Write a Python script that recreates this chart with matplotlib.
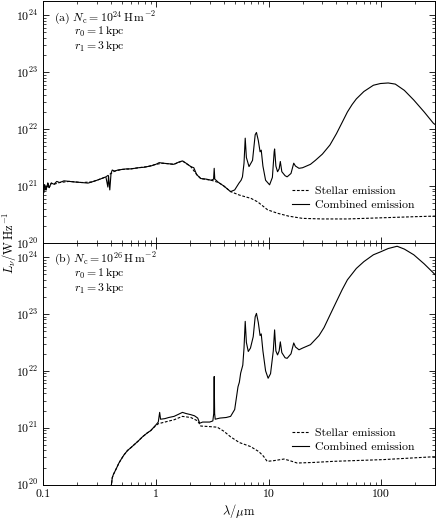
import numpy as np
import matplotlib
matplotlib.use('Agg')
import matplotlib.pyplot as plt
from matplotlib.ticker import FixedLocator, FixedFormatter, LogLocator, NullFormatter

plt.rcParams['font.family'] = 'serif'
plt.rcParams['font.serif'] = ['cmr10', 'DejaVu Serif']
plt.rcParams['mathtext.fontset'] = 'cm'
plt.rcParams['axes.unicode_minus'] = False
plt.rcParams['axes.formatter.use_mathtext'] = True
plt.rcParams['font.size'] = 8.5

# panel (a): N_c = 1e24 H m^-2, values are log10(L_nu / W Hz^-1)
lam_comb_a = [0.100, 0.101, 0.103, 0.106, 0.110, 0.113, 0.118, 0.125, 0.132, 0.140,
              0.153, 0.170, 0.19, 0.22, 0.25, 0.27, 0.30, 0.33, 0.36, 0.375,
              0.38, 0.39, 0.40, 0.41, 0.43, 0.46, 0.50, 0.55, 0.60, 0.65,
              0.70, 0.80, 0.84, 0.90, 1.00, 1.07, 1.15, 1.30, 1.44, 1.6,
              1.72, 1.85, 2.04, 2.17, 2.3, 2.5, 2.8, 3.1, 3.25, 3.29,
              3.33, 3.6, 4.0, 4.6, 5.0, 5.46, 5.7, 5.86, 6.05, 6.2,
              6.35, 6.7, 7.2, 7.6, 7.8, 8.1, 8.4, 8.6, 8.9, 9.4,
              10.2, 10.8, 11.2, 11.3, 11.6, 12.0, 12.4, 12.7, 13.1, 14.0,
              14.6, 15.8, 16.7, 17.3, 18.6, 20, 23.5, 26, 30, 35,
              40, 45, 50, 55, 60, 70, 85, 98, 115, 133,
              160, 194, 240, 290, 300]
log_comb_a = [21.00, 20.88, 21.02, 20.93, 21.05, 20.97, 21.05, 21.03, 21.08, 21.06,
              21.09, 21.08, 21.07, 21.06, 21.05, 21.07, 21.10, 21.13, 21.16, 20.98,
              21.18, 20.93, 21.22, 21.28, 21.26, 21.28, 21.29, 21.30, 21.30, 21.31,
              21.32, 21.33, 21.34, 21.35, 21.38, 21.41, 21.40, 21.39, 21.38, 21.42,
              21.44, 21.40, 21.34, 21.32, 21.20, 21.13, 21.12, 21.10, 21.12, 21.31,
              21.12, 21.06, 21.00, 20.90, 20.93, 21.05, 21.10, 21.16, 21.40, 21.84,
              21.50, 21.34, 21.45, 21.90, 21.94, 21.80, 21.60, 21.63, 21.35, 21.10,
              21.02, 21.15, 21.60, 21.65, 21.35, 21.25, 21.30, 21.43, 21.25, 21.18,
              21.16, 21.22, 21.40, 21.35, 21.31, 21.32, 21.38, 21.45, 21.56, 21.72,
              21.92, 22.12, 22.30, 22.43, 22.53, 22.66, 22.77, 22.80, 22.81, 22.79,
              22.68, 22.51, 22.30, 22.10, 22.08]

lam_star_a = [0.100, 0.101, 0.103, 0.106, 0.110, 0.113, 0.118, 0.125, 0.140, 0.170,
              0.22, 0.27, 0.33, 0.36, 0.40, 0.43, 0.50, 0.60, 0.70, 0.84,
              1.00, 1.15, 1.44, 1.72, 2.04, 2.3, 2.5, 3.1, 3.6, 4.0,
              4.6, 5.5, 7.0, 8.0, 9.8, 12, 15, 20, 30, 50,
              100, 200, 300]
log_star_a = [21.00, 20.88, 21.02, 20.93, 21.05, 20.97, 21.05, 21.03, 21.06, 21.08,
              21.06, 21.07, 21.13, 21.16, 21.22, 21.26, 21.29, 21.30, 21.32, 21.34,
              21.38, 21.40, 21.38, 21.44, 21.34, 21.20, 21.13, 21.10, 21.06, 21.00,
              20.90, 20.84, 20.78, 20.72, 20.58, 20.52, 20.47, 20.43, 20.42, 20.42,
              20.44, 20.46, 20.47]

# panel (b): N_c = 1e26 H m^-2
lam_comb_b = [0.40, 0.405, 0.41, 0.42, 0.43, 0.45, 0.47, 0.49, 0.52, 0.56,
              0.60, 0.64, 0.70, 0.76, 0.84, 0.90, 1.0, 1.05, 1.08, 1.10,
              1.2, 1.3, 1.45, 1.6, 1.72, 1.85, 2.04, 2.2, 2.35, 2.45,
              2.6, 3.0, 3.2, 3.26, 3.29, 3.32, 3.36, 3.7, 4.2, 4.6,
              5.0, 5.35, 5.5, 5.65, 5.9, 6.05, 6.2, 6.35, 6.6, 6.9,
              7.3, 7.6, 7.8, 8.1, 8.4, 8.6, 8.9, 9.4, 9.9, 10.4,
              11.0, 11.3, 11.6, 12.0, 12.4, 12.7, 13.1, 14.0, 14.6, 15.8,
              16.7, 17.3, 18.6, 20, 23.5, 28, 31, 35, 40, 45,
              50, 60, 70, 85, 98, 115, 138, 160, 194, 240,
              290, 300]
log_comb_b = [19.95, 20.03, 20.12, 20.18, 20.22, 20.30, 20.38, 20.44, 20.52, 20.60,
              20.65, 20.70, 20.77, 20.84, 20.91, 20.95, 21.05, 21.10, 21.27, 21.15,
              21.16, 21.18, 21.20, 21.24, 21.27, 21.25, 21.23, 21.21, 21.17, 21.08,
              21.10, 21.10, 21.12, 21.25, 21.90, 21.25, 21.15, 21.17, 21.18, 21.20,
              21.32, 21.72, 21.80, 21.96, 22.10, 22.40, 22.87, 22.50, 22.34, 22.40,
              22.60, 22.95, 23.01, 22.85, 22.62, 22.65, 22.35, 22.00, 21.87, 21.95,
              22.35, 22.72, 22.35, 22.28, 22.35, 22.51, 22.32, 22.23, 22.22, 22.30,
              22.49, 22.42, 22.37, 22.40, 22.46, 22.62, 22.76, 22.98, 23.22, 23.43,
              23.60, 23.80, 23.92, 24.04, 24.09, 24.15, 24.19, 24.14, 24.04, 23.88,
              23.72, 23.69]

lam_star_b = [0.40, 0.405, 0.41, 0.42, 0.43, 0.45, 0.47, 0.49, 0.52, 0.56,
              0.60, 0.64, 0.70, 0.76, 0.84, 0.90, 1.0, 1.05, 1.2, 1.45,
              1.72, 2.04, 2.35, 2.5, 3.0, 3.5, 4.0, 4.6, 5.5, 6.9,
              8.2, 9.0, 9.7, 11, 13.7, 15.5, 17.9, 25, 38, 104,
              290, 300]
log_star_b = [19.95, 20.03, 20.12, 20.18, 20.22, 20.30, 20.38, 20.44, 20.52, 20.60,
              20.65, 20.70, 20.77, 20.84, 20.91, 20.95, 21.04, 21.07, 21.10, 21.14,
              21.20, 21.18, 21.12, 21.03, 21.02, 21.01, 20.94, 20.84, 20.74, 20.67,
              20.58, 20.50, 20.41, 20.42, 20.45, 20.42, 20.38, 20.39, 20.41, 20.44,
              20.49, 20.49]

x_ticks = [0.1, 1, 10, 100]
x_tick_labels = ['0.1', '1', '10', '100']
labels_a = [r'(a) $N_\mathrm{c} = 10^{24}\,\mathrm{H\,m^{-2}}$',
            r'$r_0 = 1\,\mathrm{kpc}$', r'$r_1 = 3\,\mathrm{kpc}$']
labels_b = [r'(b) $N_\mathrm{c} = 10^{26}\,\mathrm{H\,m^{-2}}$',
            r'$r_0 = 1\,\mathrm{kpc}$', r'$r_1 = 3\,\mathrm{kpc}$']

fig = plt.figure(figsize=(4.36, 5.2), dpi=100)
ax_a = fig.add_axes([0.099, 0.533, 0.899, 0.465])
ax_b = fig.add_axes([0.099, 0.068, 0.899, 0.465], sharex=ax_a)

panels = [
    (ax_a, lam_star_a, log_star_a, lam_comb_a, log_comb_a, labels_a),
    (ax_b, lam_star_b, log_star_b, lam_comb_b, log_comb_b, labels_b),
]

for ax, ls, ys, lc, yc, labels in panels:
    ax.plot(ls, 10 ** np.array(ys), color='k', lw=0.8, ls=(0, (2.5, 1.5)),
            label='Stellar emission')
    ax.plot(lc, 10 ** np.array(yc), color='k', lw=0.8, label='Combined emission')
    ax.set_xscale('log')
    ax.set_yscale('log')
    ax.set_xlim(0.1, 300)
    ax.set_ylim(1e20, 10 ** 24.25)
    ax.yaxis.set_major_locator(LogLocator(base=10, numticks=10))
    ax.yaxis.set_minor_locator(LogLocator(base=10, subs=np.arange(2, 10), numticks=10))
    ax.yaxis.set_minor_formatter(NullFormatter())
    ax.tick_params(which='both', direction='in', top=True, right=True)
    ax.tick_params(which='major', length=4, width=0.6)
    ax.tick_params(which='minor', length=2, width=0.5)
    for sp in ax.spines.values():
        sp.set_linewidth(0.7)
    ax.text(0.027, 0.93, labels[0], transform=ax.transAxes, ha='left', va='center')
    ax.text(0.078, 0.87, labels[1], transform=ax.transAxes, ha='left', va='center')
    ax.text(0.078, 0.81, labels[2], transform=ax.transAxes, ha='left', va='center')
    ax.legend(loc='lower right', bbox_to_anchor=(0.975, 0.09), frameon=False,
              handlelength=1.5, handletextpad=0.5, labelspacing=0.35, fontsize=8.5)

ax_a.xaxis.set_major_locator(FixedLocator(x_ticks))
ax_a.xaxis.set_major_formatter(FixedFormatter(x_tick_labels))
ax_a.xaxis.set_minor_formatter(NullFormatter())
plt.setp(ax_a.get_xticklabels(), visible=False)

ax_b.set_xlabel(r'$\lambda/\mu\mathrm{m}$', fontsize=9, labelpad=2)
fig.text(0.022, 0.533, r'$L_\nu/\mathrm{W\,Hz^{-1}}$', rotation=90,
         ha='center', va='center', fontsize=9)

fig.savefig('out.png', dpi=100)
